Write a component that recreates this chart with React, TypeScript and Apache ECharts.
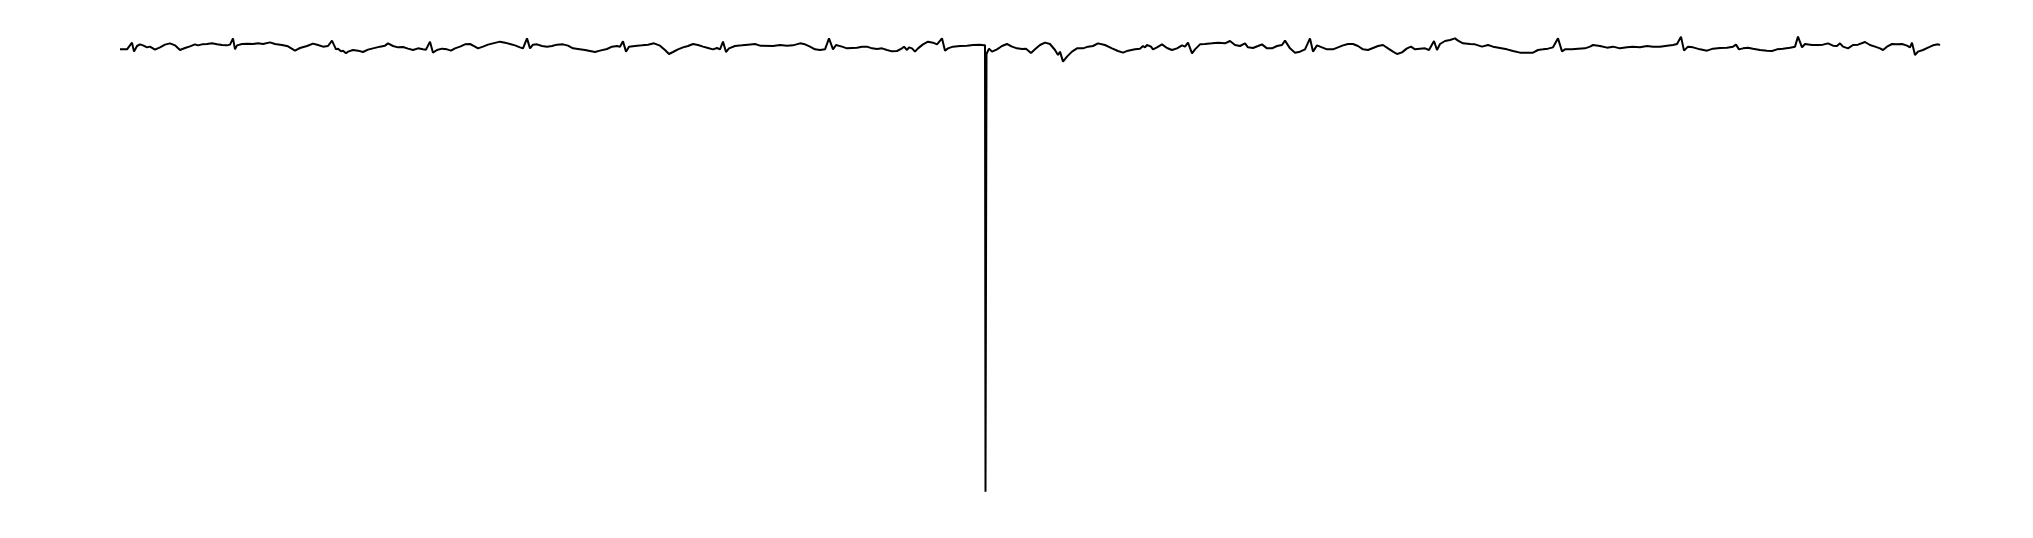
import React, { useEffect, useRef } from "react";
import * as echarts from "echarts";

// ECG-like trace: [sample, amplitude µV]
const traceBeforeArtifact: [number, number][] = [
  [0, 13], [7, 13], [12, 147], [14, -33], [17, 80], [20, 113], [23, 93], [27, 53], [30, 67], [35, 7],
  [40, 53], [45, 107], [50, 133], [55, 93], [60, 0], [65, 40], [70, 73], [75, 113], [78, 93], [82, 113],
  [87, 120], [92, 133], [97, 113], [102, 100], [107, 93], [110, 107], [113, 233], [115, 13], [117, 93], [122, 120],
  [128, 127], [133, 120], [138, 133], [143, 120], [150, 153], [155, 120], [162, 100], [168, 73], [175, -13], [180, 40],
  [187, 80], [193, 127], [198, 100], [203, 67], [208, 80], [212, 187], [216, 13], [218, 27], [221, -27], [223, -13],
  [226, -67], [228, -33], [233, 0], [238, -13], [243, -40], [248, 7], [253, 33], [260, 67], [265, 87], [268, 133],
  [273, 80], [278, 53], [283, 60], [288, 27], [293, 0], [298, 33], [303, 13], [306, 7], [310, 167], [313, -53],
  [317, 0], [322, 27], [327, 13], [331, -13], [335, 33], [340, 67], [345, 113], [350, 120], [355, 67], [358, 33],
  [363, 67], [368, 107], [373, 133], [380, 167], [385, 147], [390, 120], [395, 93], [400, 53], [403, 33], [407, 233],
  [410, 33], [413, 107], [417, 113], [422, 80], [427, 67], [432, 80], [437, 107], [443, 113], [448, 87], [453, 33],
  [458, 20], [465, 0], [470, -20], [475, -40], [480, -13], [487, 20], [492, 67], [497, 80], [500, 67], [503, 173],
  [506, -33], [509, 67], [515, 80], [522, 93], [528, 107], [534, 133], [540, 87], [545, 0], [549, -80], [553, -40],
  [558, 13], [563, 53], [568, 80], [573, 120], [578, 100], [583, 67], [588, 40], [593, 13], [597, 40], [600, 13],
  [603, 167], [606, -40], [609, 33], [615, 80], [622, 93], [628, 107], [635, 120], [640, 87], [653, 80], [660, 100],
  [667, 87], [673, 93], [680, 133], [685, 113], [690, 67], [695, 13], [700, 0], [705, 13], [709, 233], [713, 13],
  [716, 100], [722, 67], [727, 33], [732, 40], [737, 47], [742, 67], [747, 67], [752, 33], [757, 20], [762, 33],
  [767, 0], [772, -27], [777, -20], [782, 33], [784, 67], [787, 0], [789, 53], [792, 33], [795, -33], [798, 33],
  [803, 113], [808, 167], [813, 147], [817, 113], [822, 233], [825, -13], [828, 33], [833, 67], [840, 80], [847, 87],
  [853, 100], [860, 107], [864, 93], [865, 100],
];

const artifactPoint: [number, number][] = [[865.5, -8834]];

const traceAfterArtifact: [number, number][] = [
  [866.5, -80], [869, 27], [872, -33], [877, 13], [882, 80], [887, 120], [892, 67], [897, 33], [902, 20], [906, 27],
  [911, -60], [915, 13], [920, 100], [925, 147], [930, 120], [935, 0], [938, -100], [940, -33], [943, -233], [947, -133],
  [952, -33], [957, 33], [963, 33], [968, 67], [973, 80], [978, 133], [985, 100], [992, 33], [998, -20], [1003, -53],
  [1008, -13], [1015, 13], [1020, 27], [1023, 80], [1025, 53], [1027, 100], [1031, 67], [1033, 13], [1037, 53], [1042, 113],
  [1047, 40], [1052, 0], [1057, 33], [1062, 93], [1065, 67], [1068, 147], [1072, -67], [1075, 13], [1080, 113], [1085, 120],
  [1092, 133], [1098, 147], [1105, 133], [1110, 180], [1115, 100], [1120, 80], [1125, 133], [1128, 53], [1133, 40], [1138, 80],
  [1142, 113], [1147, 33], [1152, 33], [1157, 80], [1162, 100], [1165, 187], [1170, 33], [1175, -53], [1180, -33], [1185, 13],
  [1190, 233], [1193, -33], [1197, 93], [1202, 53], [1207, 13], [1213, 13], [1218, 53], [1223, 93], [1228, 120], [1233, 120],
  [1238, 80], [1243, 13], [1248, 0], [1253, 40], [1258, 80], [1263, 100], [1268, 33], [1273, -33], [1277, -80], [1282, -47],
  [1287, 33], [1291, 67], [1295, 13], [1300, 27], [1305, 33], [1309, 0], [1314, 180], [1317, 0], [1320, 120], [1325, 180],
  [1330, 200], [1335, 233], [1338, 187], [1343, 133], [1350, 120], [1355, 113], [1362, 67], [1368, 100], [1373, 67], [1380, 40],
  [1387, 13], [1393, -20], [1400, -53], [1407, -53], [1413, -53], [1418, 0], [1423, 13], [1428, 27], [1433, 53], [1438, 233],
  [1442, -27], [1445, 13], [1452, 13], [1458, 27], [1465, 33], [1470, 67], [1473, 100], [1480, 80], [1487, 47], [1493, 67],
  [1500, 33], [1507, 53], [1513, 67], [1520, 53], [1527, 80], [1533, 67], [1540, 67], [1547, 87], [1553, 100], [1557, 120],
  [1561, 267], [1564, -13], [1568, 67], [1573, 53], [1580, 13], [1587, -13], [1593, 27], [1600, 40], [1607, 47], [1613, 67],
  [1616, 107], [1619, 13], [1623, 33], [1628, 47], [1633, 27], [1640, 0], [1647, -13], [1652, -20], [1657, 13], [1663, 27],
  [1670, 47], [1675, 67], [1678, 267], [1682, 53], [1685, 120], [1692, 100], [1698, 100], [1703, 107], [1708, 133], [1713, 87],
  [1717, 80], [1720, 133], [1723, 67], [1728, 33], [1733, 100], [1738, 107], [1745, 160], [1750, 100], [1755, 67], [1760, 33],
  [1763, 0], [1767, 67], [1772, 120], [1777, 113], [1782, 120], [1787, 87], [1790, 53], [1792, 147], [1795, -100], [1798, -33],
  [1803, 0], [1808, 47], [1813, 93], [1818, 113], [1820, 100],
];

const X_MIN = 0;
const X_MAX = 1820;
const Y_MIN = -9000;
const Y_MAX = 400;

export default function App() {
  const ref = useRef<HTMLDivElement>(null);
  useEffect(() => {
    if (!ref.current) return;
    const chart = echarts.init(ref.current, null, { renderer: "svg" });
    const data = [...traceBeforeArtifact, ...artifactPoint, ...traceAfterArtifact];
    chart.setOption({
      animation: false,
      backgroundColor: "#ffffff",
      grid: { left: 120, right: 93, top: 30, bottom: 38 },
      xAxis: { type: "value", min: X_MIN, max: X_MAX, show: false },
      yAxis: { type: "value", min: Y_MIN, max: Y_MAX, show: false },
      series: [
        {
          type: "line",
          data,
          showSymbol: false,
          symbol: "none",
          lineStyle: { color: "#000000", width: 2 },
          itemStyle: { color: "#000000" },
        },
      ],
    });
    return () => chart.dispose();
  }, []);
  return (
    <div
      ref={ref}
      style={{ position: "fixed", left: 0, top: 0, width: 2033, height: 538 }}
    />
  );
}
